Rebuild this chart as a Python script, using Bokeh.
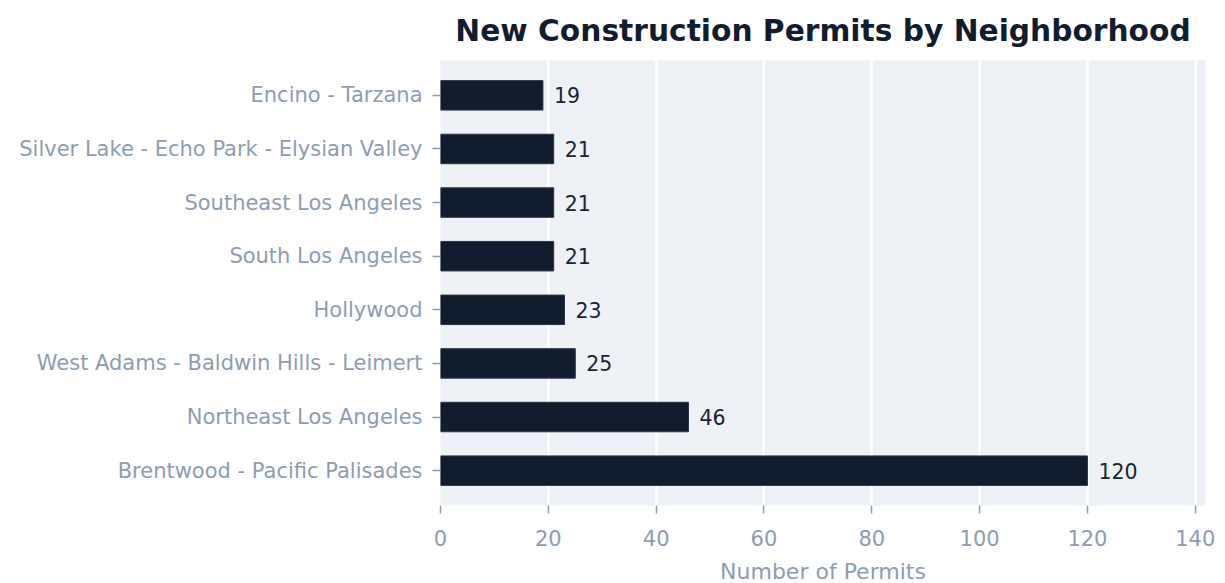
from bokeh.plotting import figure
from bokeh.models import ColumnDataSource, FactorRange, Range1d, FixedTicker
from bokeh.embed import file_html
from bokeh.resources import INLINE
from bokeh.core.properties import value

neighborhoods = [
    "Brentwood - Pacific Palisades",
    "Northeast Los Angeles",
    "West Adams - Baldwin Hills - Leimert",
    "Hollywood",
    "South Los Angeles",
    "Southeast Los Angeles",
    "Silver Lake - Echo Park - Elysian Valley",
    "Encino - Tarzana",
]
permits = [120, 46, 25, 23, 21, 21, 21, 19]
x_ticks = [0, 20, 40, 60, 80, 100, 120, 140]

FONT = "DejaVu Sans"
BAR = "#111d2e"
TICK = "#8d9db1"

src = ColumnDataSource(dict(cat=neighborhoods, val=permits, lab=[str(v) for v in permits]))

p = figure(
    frame_width=765, frame_height=445,
    y_range=FactorRange(factors=neighborhoods, range_padding=0.15, range_padding_units="absolute"),
    x_range=Range1d(0, 141.9),
    output_backend="svg", toolbar_location=None,
    min_border_left=440, min_border_right=12, min_border_top=60, min_border_bottom=78,
)
p.hbar(y="cat", right="val", left=0, height=0.55, source=src, fill_color=BAR, line_color="#2a3547", line_width=1)
p.text(x="val", y="cat", text="lab", source=src, x_offset=11, text_baseline="middle",
       text_align="left", text_font=value(FONT), text_font_size="20.5px", text_color="#1b2434")

p.background_fill_color = "#eef2f7"
p.border_fill_color = "white"
p.outline_line_color = None

p.title.text = "New Construction Permits by Neighborhood"
p.title.align = "center"
p.title.vertical_align = "top"
p.title.text_font = FONT
p.title.text_font_size = "29.7px"
p.title.text_font_style = "bold"
p.title.text_color = "#111c2e"
p.title.offset = 0
p.title.standoff = 22

p.xgrid.grid_line_color = "white"
p.xgrid.grid_line_width = 2.5
p.xgrid.ticker = FixedTicker(ticks=x_ticks)
p.ygrid.grid_line_color = None

p.xaxis.ticker = FixedTicker(ticks=x_ticks)
p.xaxis.axis_label = "Number of Permits"
for ax in (p.xaxis[0], p.yaxis[0]):
    ax.axis_line_color = None
    ax.major_tick_line_color = TICK
    ax.major_tick_line_width = 1.5
    ax.major_tick_in = 0
    ax.major_tick_out = 8
    ax.minor_tick_line_color = None
    ax.major_label_text_font = FONT
    ax.major_label_text_font_size = "21px"
    ax.major_label_text_color = TICK
    ax.axis_label_text_font = FONT
    ax.axis_label_text_font_size = "22px"
    ax.axis_label_text_font_style = "normal"
    ax.axis_label_text_color = TICK
p.xaxis.major_label_standoff = 16
p.yaxis.major_label_standoff = 10
p.xaxis.axis_label_standoff = 10

open("out.html", "w").write(file_html(p, INLINE))
